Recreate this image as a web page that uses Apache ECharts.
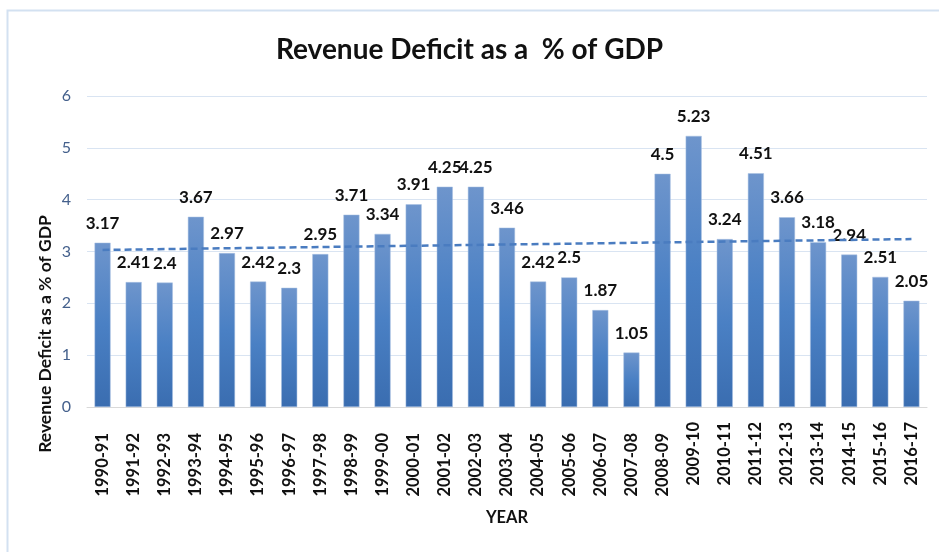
<!DOCTYPE html>
<html><head><meta charset="utf-8">
<script src="https://cdn.jsdelivr.net/npm/echarts@6/dist/echarts.min.js"></script>
<style>html,body{margin:0;padding:0;background:#fff}#c{width:939px;height:552px}</style>
</head><body><div id="c"></div>
<script>
const categories = ['1990-91','1991-92','1992-93','1993-94','1994-95','1995-96','1996-97','1997-98','1998-99','1999-00','2000-01','2001-02','2002-03','2003-04','2004-05','2005-06','2006-07','2007-08','2008-09','2009-10','2010-11','2011-12','2012-13','2013-14','2014-15','2015-16','2016-17'];
const deficit = [3.17,2.41,2.4,3.67,2.97,2.42,2.3,2.95,3.71,3.34,3.91,4.25,4.25,3.46,2.42,2.5,1.87,1.05,4.5,5.23,3.24,4.51,3.66,3.18,2.94,2.51,2.05];
const trendEnds = [3.03, 3.24];
const yTicks = [0,1,2,3,4,5,6];
const shiftedFrom = '2009-10';

const chart = echarts.init(document.getElementById('c'));
const shiftIdx = categories.indexOf(shiftedFrom);
const font = 'Lato, "Open Sans", sans-serif';
const xLabel = (margin, keep) => ({rotate: 90, margin: margin, interval: 0,
  fontSize: 16.5, fontWeight: 700, color: '#111', fontFamily: font,
  formatter: (v, i) => keep(i) ? v : ''});
chart.setOption({
  animation: false,
  textStyle: {fontFamily: font},
  title: {text: 'Revenue Deficit as a  % of GDP', left: 'center', top: 31,
    textStyle: {fontSize: 28, fontWeight: 'bold', color: '#111', fontFamily: font}},
  grid: {left: 87, right: 12, top: 96, bottom: 145},
  graphic: [
    {type: 'rect', shape: {x: 7.5, y: 10.5, width: 950, height: 560},
      style: {fill: 'none', stroke: '#d3e1f1', lineWidth: 2}, z: -1},
    {type: 'text', x: 45, y: 334, rotation: Math.PI/2, style: {text: 'Revenue Deficit as a % of GDP',
      fontSize: 17.5, fontWeight: 'bold', fill: '#111', fontFamily: font, align: 'center', verticalAlign: 'middle'}},
    {type: 'text', x: 507, y: 518, style: {text: 'YEAR', fontSize: 16.5, fontWeight: 'bold', fill: '#111',
      fontFamily: font, align: 'center', verticalAlign: 'middle'}}
  ],
  xAxis: [
    {type: 'category', data: categories, position: 'bottom',
      axisTick: {show: false}, axisLine: {lineStyle: {color: '#d9d9d9'}},
      axisLabel: xLabel(15, i => i >= shiftIdx)},
    {type: 'category', data: categories, position: 'bottom',
      axisTick: {show: false}, axisLine: {show: false},
      axisLabel: xLabel(26, i => i < shiftIdx)}
  ],
  yAxis: {type: 'value', min: yTicks[0], max: yTicks[yTicks.length-1], interval: 1,
    axisLine: {show: false}, axisTick: {show: false},
    splitLine: {lineStyle: {color: '#d9e4f2'}},
    axisLabel: {fontSize: 16, color: '#44608c', margin: 16, fontFamily: font}},
  series: [{
    type: 'bar', data: deficit, barWidth: 16, xAxisIndex: 0,
    itemStyle: {color: new echarts.graphic.LinearGradient(0,0,0,1,[
      {offset: 0, color: '#6e95cc'}, {offset: 0.5, color: '#4a80c4'}, {offset: 1, color: '#3a6db0'}]),
      borderColor: '#a9c1e3', borderWidth: 0.5},
    label: {show: true, position: 'top', distance: 11, fontSize: 17, fontWeight: 'bold', color: '#111', fontFamily: font},
    markLine: {symbol: 'none', silent: true, label: {show: false},
      lineStyle: {type: [7, 4], color: '#4a7cc0', width: 2.5},
      data: [[{coord: [categories[0], trendEnds[0]]}, {coord: [categories[categories.length-1], trendEnds[1]]}]]}
  }]
});
</script></body></html>
